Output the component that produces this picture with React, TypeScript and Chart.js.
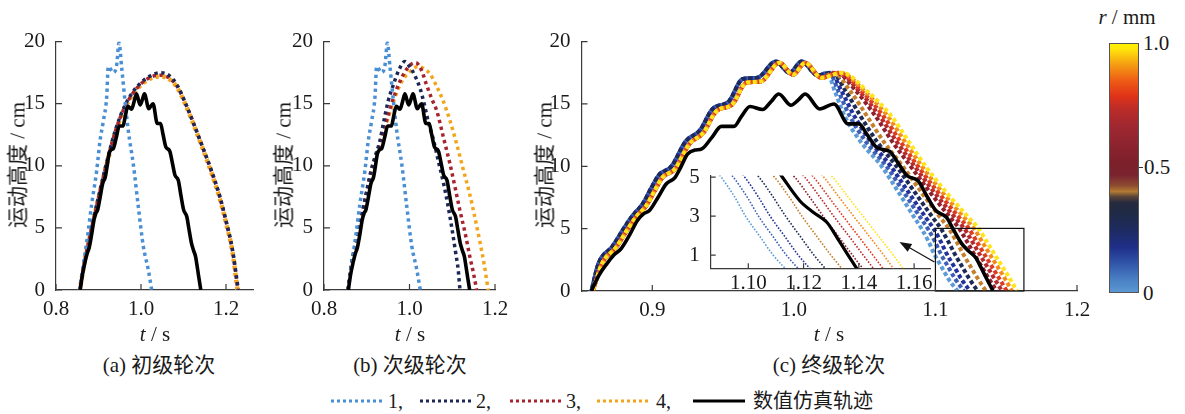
import React, { useEffect, useRef } from "react";
import { Chart, registerables } from "chart.js";

Chart.register(...registerables);

type Pt = [number, number];

const FONT = '"Liberation Serif", "Times New Roman", "Noto Sans CJK SC", serif';
const TEXT = "#1a1a1a";
const AXIS = "#3a3a3a";

// ---------------- tick labels ----------------
const X_TICKS_A = [0.8, 1.0, 1.2];
const X_TICKS_B = [0.8, 1.0, 1.2];
const X_TICKS_C = [0.9, 1.0, 1.1, 1.2];
const Y_TICKS = [0, 5, 10, 15, 20];
const INSET_X_TICKS = [1.1, 1.12, 1.14, 1.16];
const INSET_Y_TICKS = [1, 3, 5];

// ---------------- text ----------------
const Y_TITLE = "运动高度 / cm";
const CAPTIONS = ["(a) 初级轮次", "(b) 次级轮次", "(c) 终级轮次"];
const LEGEND_LABELS = ["1,", "2,", "3,", "4,", "数值仿真轨迹"];
const CBAR_TICKS = ["1.0", "0.5", "0"];

// ---------------- colours ----------------
const COL_1 = "#4a8fd4";
const COL_2 = "#1c2756";
const COL_3 = "#a8232e";
const COL_4 = "#f2a51c";
const C_COLORS = ["#5b9bd8", "#3d5fb5", "#23319a", "#1d2a55", "#c47f2c", "#8e1f2c", "#b52a2c", "#dd3b22", "#f28a1c", "#ffe41a"];

// ---------------- data: numerical simulation (black) ----------------
const SIM: Pt[] = [
  [0.857, 0], [0.862, 1.2], [0.868, 2.2], [0.873, 2.9], [0.878, 3.4], [0.884, 4.5], [0.8895, 5.66], [0.894, 6.2],
  [0.898, 6.45], [0.904, 7.5], [0.9098, 8.58], [0.916, 9.1], [0.92, 9.9], [0.9249, 10.97], [0.93, 11.3], [0.935, 11.4],
  [0.942, 12.3], [0.9488, 13.2], [0.9577, 13.2], [0.963, 14.0], [0.969, 14.8], [0.9779, 14.55], [0.984, 15.2],
  [0.9893, 15.8], [0.998, 14.9], [1.003, 15.3], [1.008, 15.8], [1.0183, 14.6], [1.0283, 15.0], [1.0384, 13.4],
  [1.046, 13.4], [1.052, 12.5], [1.0587, 11.5], [1.0675, 11.2], [1.074, 10.2], [1.08, 9.24], [1.0877, 8.84],
  [1.094, 7.6], [1.1003, 6.45], [1.1078, 5.9], [1.1121, 5.05], [1.1187, 3.78], [1.1236, 3.19], [1.1284, 2.69],
  [1.132, 1.93], [1.1357, 1.09], [1.1407, 0],
];

// ---------------- data: round 1 (panels a, b) ----------------
const R1: Pt[] = [
  [0.8565, 0], [0.8647, 2.1], [0.8741, 4.3], [0.8839, 6.9], [0.8957, 9.6], [0.9035, 12.0], [0.9114, 13.6],
  [0.9192, 15.5], [0.9231, 18.0], [0.9349, 17.5], [0.9427, 18.1], [0.9482, 19.9], [0.9545, 17.9], [0.9624, 15.2],
  [0.9702, 12.8], [0.982, 10.1], [0.9937, 6.7], [1.0055, 3.5], [1.0173, 1.6], [1.0251, 0],
];

// ---------------- data: panel a rounds 2-4 ----------------
const R2_A: Pt[] = [
  [0.856, 0], [0.868, 2.5], [0.884, 5.1], [0.9, 7.5], [0.92, 10.4], [0.94, 12.9], [0.96, 14.7], [0.98, 15.9],
  [1.0, 16.7], [1.02, 17.2], [1.045, 17.5], [1.065, 17.3], [1.085, 16.5], [1.105, 15.0], [1.125, 13.3],
  [1.145, 11.5], [1.165, 9.7], [1.185, 7.6], [1.2, 5.6], [1.215, 3.3], [1.229, 0],
];
const R3_A: Pt[] = [
  [0.856, 0], [0.868, 2.4], [0.884, 5.0], [0.9, 7.4], [0.92, 10.3], [0.94, 12.8], [0.96, 14.6], [0.98, 15.8],
  [1.0, 16.6], [1.02, 17.1], [1.045, 17.3], [1.065, 17.1], [1.085, 16.4], [1.105, 15.0], [1.125, 13.3],
  [1.145, 11.5], [1.165, 9.6], [1.185, 7.5], [1.2, 5.5], [1.215, 3.2], [1.228, 0],
];
const R4_A: Pt[] = [
  [0.856, 0], [0.868, 2.4], [0.884, 5.0], [0.9, 7.4], [0.92, 10.2], [0.94, 12.7], [0.96, 14.5], [0.98, 15.7],
  [1.0, 16.5], [1.02, 17.0], [1.045, 17.2], [1.065, 17.0], [1.085, 16.3], [1.105, 14.9], [1.125, 13.2],
  [1.145, 11.4], [1.165, 9.5], [1.185, 7.4], [1.2, 5.4], [1.215, 3.1], [1.227, 0],
];

// ---------------- data: panel b rounds 2-4 ----------------
const R2_B: Pt[] = [
  [0.856, 0], [0.865, 2.3], [0.875, 3.8], [0.888, 6.0], [0.9, 8.0], [0.91, 9.6], [0.92, 10.8], [0.93, 11.9],
  [0.94, 13.6], [0.95, 15.2], [0.962, 16.5], [0.975, 17.7], [0.989, 18.4], [1.0, 18.0], [1.012, 17.3],
  [1.025, 16.2], [1.035, 14.9], [1.045, 13.4], [1.056, 12.1], [1.068, 10.3], [1.079, 8.7], [1.09, 6.8],
  [1.099, 5.0], [1.108, 3.0], [1.114, 1.6], [1.118, 0],
];
const R3_B: Pt[] = [
  [0.856, 0], [0.865, 2.2], [0.875, 3.7], [0.888, 5.9], [0.9, 7.9], [0.91, 9.5], [0.92, 10.7], [0.93, 11.7],
  [0.945, 13.5], [0.96, 15.2], [0.975, 16.6], [0.99, 17.6], [1.005, 18.2], [1.015, 18.3], [1.028, 17.7],
  [1.04, 16.5], [1.052, 15.4], [1.064, 14.4], [1.08, 12.2], [1.095, 10.1], [1.107, 8.2], [1.118, 6.4],
  [1.13, 4.6], [1.141, 2.7], [1.15, 1.3], [1.157, 0],
];
const R4_B: Pt[] = [
  [0.856, 0], [0.865, 2.2], [0.875, 3.6], [0.888, 5.8], [0.9, 7.8], [0.91, 9.4], [0.92, 10.6], [0.93, 11.6],
  [0.945, 13.3], [0.96, 14.9], [0.975, 16.3], [0.99, 17.2], [1.005, 17.7], [1.02, 18.0], [1.035, 17.8],
  [1.048, 17.4], [1.062, 16.5], [1.079, 15.2], [1.095, 13.6], [1.11, 11.8], [1.125, 9.8], [1.141, 7.7],
  [1.152, 6.0], [1.164, 4.0], [1.175, 2.0], [1.184, 0],
];

// ---------------- data: panel c (final round, r = 0 … 1 mm) ----------------
const C_R = [0, 0.11, 0.22, 0.33, 0.44, 0.56, 0.67, 0.78, 0.89, 1.0];
// rise of the larger-r runs
const C_RISE: Pt[] = [
  [0.858, 0], [0.8645, 2.2], [0.8744, 3.5], [0.8823, 4.9], [0.8883, 5.9], [0.8958, 6.85], [0.9015, 8.0],
  [0.9072, 9.1], [0.916, 9.77], [0.9261, 11.77], [0.9362, 12.7], [0.9451, 14.4], [0.9565, 14.96],
  [0.9664, 16.7], [0.9766, 16.8], [0.9898, 18.3], [0.9994, 17.35], [1.008, 18.3], [1.0194, 17.1],
];
// rise of the smaller-r runs (slightly earlier)
const C_RISE_EARLY: Pt[] = [
  [0.857, 0], [0.862, 2.2], [0.872, 3.6], [0.8798, 5.0], [0.8858, 6.0], [0.8933, 7.0], [0.899, 8.2],
  [0.9047, 9.3], [0.9135, 10.0], [0.9236, 12.0], [0.9337, 12.9], [0.9426, 14.6], [0.954, 15.2],
  [0.9639, 17.0], [0.9741, 17.1], [0.9873, 18.4], [0.9969, 17.5], [1.0055, 18.4], [1.0169, 17.3],
];
const C_LEVELS = [17.5, 16, 14, 12, 10, 8, 6, 5, 4, 3, 2, 1, 0];
const C_DESC: number[][] = [
  [1.0235, 1.029, 1.036, 1.047, 1.062, 1.0735, 1.0845, 1.0902, 1.095, 1.099, 1.104, 1.109, 1.1155],
  [1.025, 1.0315, 1.0396, 1.0507, 1.0654, 1.0772, 1.0887, 1.0946, 1.0995, 1.1037, 1.1087, 1.1138, 1.1201],
  [1.026, 1.0338, 1.0429, 1.0541, 1.0685, 1.0805, 1.0925, 1.0987, 1.1036, 1.1079, 1.113, 1.1181, 1.1243],
  [1.027, 1.0368, 1.0472, 1.0586, 1.0725, 1.0849, 1.0974, 1.1039, 1.1089, 1.1135, 1.1186, 1.1238, 1.1298],
  [1.028, 1.04, 1.0518, 1.0633, 1.0769, 1.0896, 1.1027, 1.1095, 1.1147, 1.1194, 1.1246, 1.1299, 1.1357],
  [1.03, 1.0442, 1.0578, 1.0694, 1.0825, 1.0956, 1.1096, 1.1168, 1.1221, 1.1271, 1.1324, 1.1377, 1.1432],
  [1.031, 1.0463, 1.0608, 1.0725, 1.0853, 1.0986, 1.113, 1.1204, 1.1258, 1.1309, 1.1363, 1.1416, 1.147],
  [1.032, 1.0481, 1.0634, 1.0752, 1.0877, 1.1013, 1.116, 1.1236, 1.129, 1.1343, 1.1397, 1.1451, 1.1504],
  [1.033, 1.0502, 1.0664, 1.0783, 1.0905, 1.1043, 1.1195, 1.1273, 1.1327, 1.1381, 1.1436, 1.149, 1.1541],
  [1.034, 1.052, 1.069, 1.081, 1.093, 1.107, 1.1225, 1.1305, 1.136, 1.1415, 1.147, 1.1525, 1.1575],
];

// zoom window and arrow (data coordinates of panel c)
const ZOOM_T = [1.1, 1.1625];
const ZOOM_H = [0, 5.02];
const ARROW_FROM: Pt = [1.0993, 2.33];
const ARROW_TO: Pt = [1.0746, 3.93];

// ---------------- helpers ----------------
const toXY = (pts: Pt[]) => pts.map(([x, y]) => ({ x, y }));
const cSeries = (i: number): Pt[] => [
  ...(C_R[i] < 0.4 ? C_RISE_EARLY : C_RISE),
  ...C_LEVELS.map((h, k) => [C_DESC[i][k], h] as Pt),
];

const line = (pts: Pt[], color: string, width: number, dash: number[], offset = 0) => ({
  data: toXY(pts),
  showLine: true,
  borderColor: color,
  backgroundColor: color,
  borderWidth: width,
  borderDash: dash,
  borderDashOffset: offset,
  borderCapStyle: "butt",
  pointRadius: 0,
  cubicInterpolationMode: "monotone",
  fill: false,
});

const inwardTicks = {
  id: "inwardTicks",
  afterDraw(chart: any, _a: any, opts: any) {
    const len = (opts && opts.len) || 6;
    const { ctx, chartArea: a, scales } = chart;
    ctx.save();
    ctx.strokeStyle = AXIS;
    ctx.lineWidth = 1.2;
    ctx.beginPath();
    for (const t of scales.x.ticks) {
      const px = scales.x.getPixelForValue(t.value);
      ctx.moveTo(px, a.bottom);
      ctx.lineTo(px, a.bottom - len);
    }
    for (const t of scales.y.ticks) {
      const py = scales.y.getPixelForValue(t.value);
      ctx.moveTo(a.left, py);
      ctx.lineTo(a.left + len, py);
    }
    ctx.stroke();
    ctx.restore();
  },
};

const zoomMarks = {
  id: "zoomMarks",
  afterDatasetsDraw(chart: any, _a: any, opts: any) {
    if (!opts || !opts.enabled) return;
    const { ctx, scales } = chart;
    const x = scales.x;
    const y = scales.y;
    const x0 = x.getPixelForValue(ZOOM_T[0]);
    const x1 = x.getPixelForValue(ZOOM_T[1]);
    const y0 = y.getPixelForValue(ZOOM_H[0]);
    const y1 = y.getPixelForValue(ZOOM_H[1]);
    ctx.save();
    ctx.strokeStyle = "#111";
    ctx.fillStyle = "#111";
    ctx.lineWidth = 1.2;
    ctx.strokeRect(x0, y1, x1 - x0, y0 - y1);
    const ax0 = x.getPixelForValue(ARROW_FROM[0]);
    const ay0 = y.getPixelForValue(ARROW_FROM[1]);
    const ax1 = x.getPixelForValue(ARROW_TO[0]);
    const ay1 = y.getPixelForValue(ARROW_TO[1]);
    const ang = Math.atan2(ay1 - ay0, ax1 - ax0);
    const hl = 12;
    const hw = 4.5;
    const c = Math.cos(ang);
    const s = Math.sin(ang);
    ctx.beginPath();
    ctx.moveTo(ax0, ay0);
    ctx.lineTo(ax1 - c * hl * 0.8, ay1 - s * hl * 0.8);
    ctx.stroke();
    ctx.beginPath();
    ctx.moveTo(ax1, ay1);
    ctx.lineTo(ax1 - hl * c + hw * s, ay1 - hl * s - hw * c);
    ctx.lineTo(ax1 - hl * c - hw * s, ay1 - hl * s + hw * c);
    ctx.closePath();
    ctx.fill();
    ctx.restore();
  },
};

type Cfg = {
  datasets: any[];
  xMin: number;
  xMax: number;
  yMin: number;
  yMax: number;
  xTicks: number[];
  yTicks: number[];
  xDec: number;
  yDec: number;
  padding: { top: number; right: number; bottom: number; left: number };
  yW: number;
  xH: number;
  tickLen: number;
  xPad: number;
  zoom?: boolean;
};

const TICK_SIZE = 21;

function buildConfig(p: Cfg): any {
  return {
    type: "scatter",
    data: { datasets: p.datasets },
    options: {
      animation: false,
      responsive: false,
      maintainAspectRatio: false,
      devicePixelRatio: 1,
      events: [],
      layout: { padding: p.padding },
      plugins: {
        legend: { display: false },
        tooltip: { enabled: false },
        inwardTicks: { len: p.tickLen },
        zoomMarks: { enabled: !!p.zoom },
      },
      scales: {
        x: {
          type: "linear",
          position: "bottom",
          min: p.xMin,
          max: p.xMax,
          afterBuildTicks: (s: any) => {
            s.ticks = p.xTicks.map((v) => ({ value: v }));
          },
          afterFit: (s: any) => {
            s.height = p.xH;
          },
          grid: { display: false },
          border: { display: true, color: AXIS, width: 1.2 },
          ticks: {
            color: TEXT,
            font: { family: FONT, size: TICK_SIZE },
            padding: p.xPad,
            maxRotation: 0,
            autoSkip: false,
            callback: (v: any) => Number(v).toFixed(p.xDec),
          },
        },
        y: {
          type: "linear",
          min: p.yMin,
          max: p.yMax,
          afterBuildTicks: (s: any) => {
            s.ticks = p.yTicks.map((v) => ({ value: v }));
          },
          afterFit: (s: any) => {
            s.width = p.yW;
          },
          grid: { display: false },
          border: { display: true, color: AXIS, width: 1.2 },
          ticks: {
            color: TEXT,
            font: { family: FONT, size: TICK_SIZE },
            padding: 3,
            autoSkip: false,
            callback: (v: any) => Number(v).toFixed(p.yDec),
          },
        },
      },
    },
    plugins: [inwardTicks, zoomMarks],
  };
}

function ChartBox(props: { left: number; top: number; width: number; height: number; make: () => any }) {
  const ref = useRef<HTMLCanvasElement>(null);
  useEffect(() => {
    const chart = new Chart(ref.current as HTMLCanvasElement, props.make());
    return () => chart.destroy();
  }, []);
  return (
    <canvas
      ref={ref}
      width={props.width}
      height={props.height}
      style={{ position: "absolute", left: props.left, top: props.top, width: props.width, height: props.height }}
    />
  );
}

function Txt(props: { x: number; y: number; children: any; rotate?: boolean; size?: number; left?: boolean }) {
  const tx = props.left ? "0" : "-50%";
  return (
    <div
      style={{
        position: "absolute",
        left: props.x,
        top: props.y,
        transform: `translate(${tx}, -50%)${props.rotate ? " rotate(-90deg)" : ""}`,
        fontFamily: FONT,
        fontSize: props.size || 21,
        color: TEXT,
        whiteSpace: "nowrap",
        lineHeight: 1,
      }}
    >
      {props.children}
    </div>
  );
}

const XTitle = () => (
  <span>
    <i>t</i> / s
  </span>
);

const DOT_AB = [3.3, 3.6];
const DOT_C = [4, 2.6];
const DOT_IN = [1.6, 1.6];

function makeA() {
  return buildConfig({
    datasets: [
      line(SIM, "#000", 3.6, []),
      line(R1, COL_1, 3.5, DOT_AB),
      line(R2_A, COL_2, 3.5, DOT_AB, 0),
      line(R3_A, COL_3, 3.5, DOT_AB, 3.45),
      line(R4_A, COL_4, 4.5, DOT_AB, 1.7),
    ],
    xMin: 0.8,
    xMax: 1.2635,
    yMin: 0,
    yMax: 20,
    xTicks: X_TICKS_A,
    yTicks: Y_TICKS,
    xDec: 1,
    yDec: 0,
    padding: { top: 14, right: 15, bottom: 6, left: 0 },
    yW: 56,
    xH: 30,
    tickLen: 6,
    xPad: -1,
  });
}

function makeB() {
  return buildConfig({
    datasets: [
      line(SIM, "#000", 3.6, []),
      line(R1, COL_1, 3.5, DOT_AB),
      line(R2_B, COL_2, 3.5, DOT_AB),
      line(R3_B, COL_3, 3.5, DOT_AB),
      line(R4_B, COL_4, 3.5, DOT_AB),
    ],
    xMin: 0.8,
    xMax: 1.2,
    yMin: 0,
    yMax: 20,
    xTicks: X_TICKS_B,
    yTicks: Y_TICKS,
    xDec: 1,
    yDec: 0,
    padding: { top: 14, right: 20, bottom: 6, left: 0 },
    yW: 54,
    xH: 30,
    tickLen: 6,
    xPad: -1,
  });
}

function makeC() {
  const ds: any[] = [line(SIM, "#000", 3.6, [])];
  for (let i = C_R.length - 1; i >= 0; i--) ds.push(line(cSeries(i), C_COLORS[i], 4, DOT_C, i * 1.3));
  return buildConfig({
    datasets: ds,
    xMin: 0.85,
    xMax: 1.2,
    yMin: 0,
    yMax: 20,
    xTicks: X_TICKS_C,
    yTicks: Y_TICKS,
    xDec: 1,
    yDec: 0,
    padding: { top: 14, right: 18, bottom: 6, left: 0 },
    yW: 51.5,
    xH: 30,
    tickLen: 6,
    xPad: -1,
    zoom: true,
  });
}

function makeInset() {
  const ds: any[] = [line(SIM, "#000", 3.2, [])];
  for (let i = C_R.length - 1; i >= 0; i--) ds.push(line(cSeries(i), C_COLORS[i], 1.6, DOT_IN));
  return buildConfig({
    datasets: ds,
    xMin: 1.0864,
    xMax: 1.166,
    yMin: 0.327,
    yMax: 5.08,
    xTicks: INSET_X_TICKS,
    yTicks: INSET_Y_TICKS,
    xDec: 2,
    yDec: 0,
    padding: { top: 14.5, right: 14.3, bottom: 3.7, left: 0 },
    yW: 40.7,
    xH: 28,
    tickLen: 5,
    xPad: -5,
  });
}

const LEGEND_COLORS = [COL_1, COL_2, COL_3, COL_4, "#000"];
const LEGEND_LINE_X = [331, 420, 510, 597, 693];
const LEGEND_TEXT_X = [388, 476, 566, 656, 753];

const CBAR_GRADIENT =
  "linear-gradient(to top, #5b97d2 0%, #4a80c4 5%, #2f52a6 12%, #1f2f8a 18%, #1e2b60 25%, #1f2a45 32%, #262a3e 36%, #5a4438 38.5%, #b27a32 40.5%, #8c4a30 43%, #7a2430 47%, #7c2029 52%, #8e2430 60%, #a02830 67%, #bc2c28 74%, #e03318 79%, #ee5a16 85%, #f5a012 92%, #ffe60a 98%, #fff200 100%)";

export default function App() {
  return (
    <div style={{ position: "fixed", left: 0, top: 0, width: 1185, height: 414, background: "#fff", overflow: "hidden" }}>
      <ChartBox left={0} top={26} width={268} height={300} make={makeA} />
      <ChartBox left={270} top={26} width={245} height={300} make={makeB} />
      <ChartBox left={530} top={26} width={565} height={301} make={makeC} />
      <ChartBox left={670} top={160} width={275} height={140} make={makeInset} />

      <Txt x={18} y={165} rotate>{Y_TITLE}</Txt>
      <Txt x={284} y={165} rotate>{Y_TITLE}</Txt>
      <Txt x={545} y={165} rotate>{Y_TITLE}</Txt>

      <Txt x={155} y={334}><XTitle /></Txt>
      <Txt x={410} y={334}><XTitle /></Txt>
      <Txt x={829} y={334}><XTitle /></Txt>

      <Txt x={159} y={365}>{CAPTIONS[0]}</Txt>
      <Txt x={410} y={365}>{CAPTIONS[1]}</Txt>
      <Txt x={829} y={365}>{CAPTIONS[2]}</Txt>

      {LEGEND_LABELS.map((lab, i) => (
        <React.Fragment key={lab}>
          <svg
            width={52}
            height={10}
            style={{ position: "absolute", left: LEGEND_LINE_X[i], top: 396, overflow: "visible" }}
          >
            <line
              x1={0}
              y1={5}
              x2={52}
              y2={5}
              stroke={LEGEND_COLORS[i]}
              strokeWidth={3}
              strokeDasharray={i === 4 ? undefined : "3 3"}
            />
          </svg>
          <Txt x={LEGEND_TEXT_X[i]} y={401} left size={20}>
            {lab}
          </Txt>
        </React.Fragment>
      ))}

      <div
        style={{
          position: "absolute",
          left: 1109,
          top: 43,
          width: 30,
          height: 250,
          boxSizing: "border-box",
          border: "1px solid #555",
          background: CBAR_GRADIENT,
        }}
      />
      <div style={{ position: "absolute", left: 1139, top: 167, width: 4, height: 1, background: "#333" }} />
      <Txt x={1143} y={43} left>{CBAR_TICKS[0]}</Txt>
      <Txt x={1144} y={167} left>{CBAR_TICKS[1]}</Txt>
      <Txt x={1143} y={293} left>{CBAR_TICKS[2]}</Txt>
      <Txt x={1127} y={17}>
        <span>
          <i>r</i> / mm
        </span>
      </Txt>
    </div>
  );
}
